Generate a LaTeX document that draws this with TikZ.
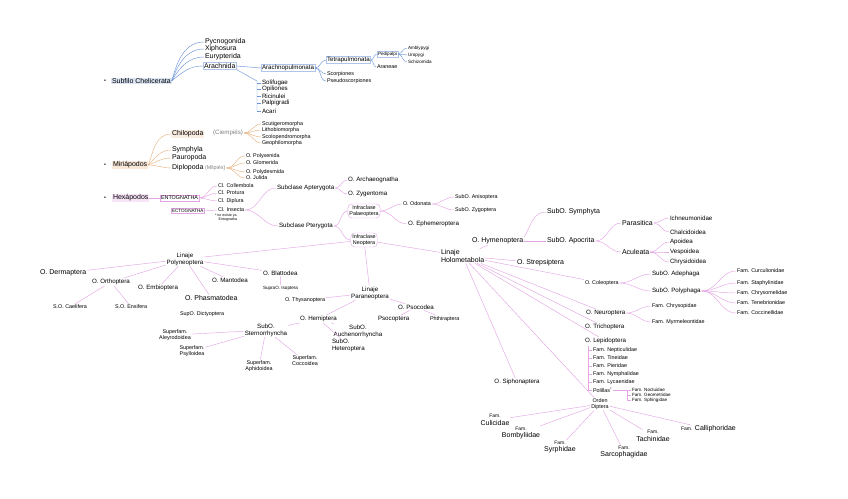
\documentclass[tikz,border=0pt]{standalone}
\usepackage{fontspec}
\setmainfont{Liberation Sans}
\definecolor{chelblue}{RGB}{110,150,215}
\definecolor{myrorange}{RGB}{230,180,130}
\definecolor{hexpink}{RGB}{228,165,228}

\begin{document}
\begin{tikzpicture}[x=1pt, y=-1pt,
    every node/.style={anchor=west, inner sep=0.8pt, align=left, font=\fontsize{5.4}{6}\selectfont},
    t3/.style={font=\fontsize{3.6}{4}\selectfont},
    t4/.style={font=\fontsize{4.6}{5.2}\selectfont},
    t6/.style={font=\fontsize{6.2}{6.8}\selectfont},
    t7/.style={font=\fontsize{7}{7.4}\selectfont},
    mid/.style={anchor=center, align=center},
    chl/.style={draw=chelblue, line width=0.45pt},
    myl/.style={draw=myrorange, line width=0.45pt},
    hxl/.style={draw=hexpink, line width=0.45pt},
    chbox/.style={draw=chelblue!55, line width=0.4pt},
    hxbox/.style={draw=hexpink, line width=0.4pt},
    ]
  \useasboundingbox (0,0) rectangle (848,498);

  \node (chdot) at (103,81) {\textbullet};
  \node[t7, fill=chelblue!25] (chel) at (111,81) {Subfilo Chelicerata};
  \node[t7] (pycno) at (204,42) {Pycnogonida};
  \node[t7] (xipho) at (204,49) {Xiphosura};
  \node[t7] (euryp) at (204,57) {Eurypterida};
  \node[t7, chbox] (arach) at (203,66) {Arachnida};
  \node[t6, chbox] (arpul) at (261,68) {Arachnopulmonata};
  \node[t6, chbox] (tetra) at (326,60) {Tetrapulmonata};
  \node[t4, chbox] (pedip) at (377,54) {Pedipalpi};
  \node[t4] (ambly) at (407,48) {Amblypygi};
  \node[t4] (uropy) at (407,55) {Uropygi};
  \node[t4] (schiz) at (407,62) {Schizomida};
  \node (aranea) at (376,67) {Araneae};
  \node (scorp) at (326,74) {Scorpiones};
  \node (pseudo) at (326,81) {Pseudoscorpiones};
  \coordinate (arbr) at (257,81);
  \node[t6] (solif) at (261,83) {Solifugae};
  \node[t6] (opil) at (261,89) {Opiliones};
  \node[t6] (ricin) at (261,96) {Ricinulei};
  \node[t6] (palpi) at (261,103) {Palpigradi};
  \node[t6] (acari) at (261,111) {Acari};

  \node (mydot) at (103,165) {\textbullet};
  \node[t7, fill=myrorange!30] (myria) at (112,165) {Miriápodos};
  \node[t7, fill=myrorange!25] (chilo) at (171,134) {Chilopoda};
  \node[t6, text=gray] (ciemp) at (212,133) {(Ciempiés)};
  \node[t7] (symph) at (171,150) {Symphyla};
  \node[t7] (pauro) at (171,158) {Pauropoda};
  \node[t7] (diplo) at (171,168) {Diplopoda};
  \node[text=gray] (milp) at (204,168) {(Milpiés)};
  \node (scuti) at (261,124) {Scutigeromorpha};
  \node (litho) at (261,130) {Lithobiomorpha};
  \node (scolo) at (261,137) {Scolopendromorpha};
  \node (geoph) at (261,143) {Geophilomorpha};
  \node (polyx) at (245,156) {O. Polyxenida};
  \node (glom) at (245,163) {O. Glomerida};
  \node (polyd) at (245,172) {O. Polydesmida};
  \node (julid) at (245,178) {O. Julida};

  \node (hxdot) at (103,198) {\textbullet};
  \node[t7, fill=hexpink!30] (hexa) at (112,198) {Hexápodos};
  \node[hxbox] (entog) at (160,198) {ENTOGNATHA};
  \node[t4, hxbox] (ectog) at (171,211) {ECTOGNATHA};
  \node (collem) at (217,186) {Cl. Collembola};
  \node (protu) at (217,193) {Cl. Protura};
  \node (diplu) at (217,201) {Cl. Diplura};
  \node (insec) at (217,210) {Cl. Insecta};
  \node[t3] (note) at (214,218) {* no existe ya\\\quad Entognatha};
  \node[t6] (apter) at (276,188) {Subclase Apterygota};
  \node[t6] (archae) at (347,180) {O. Archaeognatha};
  \node[t6] (zygen) at (347,194) {O. Zygentoma};
  \node[t6] (ptery) at (278,226) {Subclase Pterygota};
  \node[hxbox, mid, rounded corners=4pt, inner sep=1.5pt] (palae) at (364,211) {Infraclase\\Palaeoptera};
  \node[hxbox, mid, rounded corners=4pt, inner sep=1.5pt] (neopt) at (364,240) {Infraclase\\Neoptera};
  \node (odona) at (402,204) {O. Odonata};
  \node (aniso) at (454,197) {SubO. Anisoptera};
  \node (zygo) at (454,210) {SubO. Zygoptera};
  \node[t6] (ephem) at (407,224) {O. Ephemeroptera};

  \node[t7] (holo) at (440,256) {Linaje\\Holometabola};
  \node[t7] (hymen) at (471,241) {O. Hymenoptera};
  \node[t7] (symphy) at (546,212) {SubO. Symphyta};
  \node[t7] (apocr) at (546,241) {SubO. Apocrita};
  \node[t7] (parasi) at (621,223) {Parasitica};
  \node[t7] (aculea) at (621,252) {Aculeata};
  \node[t6] (ichneu) at (669,218) {Ichneumonidae};
  \node[t6] (chalc) at (669,232) {Chalcidoidea};
  \node[t6] (apoid) at (669,242) {Apoidea};
  \node[t6] (vespo) at (669,252) {Vespoidea};
  \node[t6] (chrysi) at (669,262) {Chrysidoidea};
  \node[t7] (strep) at (516,263) {O. Strepsiptera};
  \node (coleo) at (584,283) {O. Coleoptera};
  \node[t6] (adeph) at (651,274) {SubO. Adephaga};
  \node[t6] (polyp) at (651,291) {SubO. Polyphaga};
  \node (curcu) at (736,271) {Fam. Curculionidae};
  \node (staph) at (736,283) {Fam. Staphylinidae};
  \node (chrysom) at (736,293) {Fam. Chrysomelidae};
  \node (teneb) at (736,303) {Fam. Tenebrionidae};
  \node (cocci) at (736,313) {Fam. Coccinellidae};
  \node[t6] (neuro) at (585,313) {O. Neuroptera};
  \node (chryso) at (651,306) {Fam. Chrysopidae};
  \node (myrme) at (651,322) {Fam. Myrmeleontidae};
  \node[t6] (trich) at (584,327) {O. Trichoptera};
  \node[t6] (lepid) at (584,341) {O. Lepidoptera};
  \coordinate (lpbr) at (588,346);
  \node (nepti) at (592,350) {Fam. Nepticulidae};
  \node (tinei) at (592,358) {Fam. Tineidae};
  \node (pieri) at (592,366) {Fam. Pieridae};
  \node (nymph) at (592,374) {Fam. Nymphalidae};
  \node (lycae) at (592,382) {Fam. Lycaenidae};
  \node (polil) at (592,390) {Polillas\textsuperscript{*}};
  \coordinate (plbr) at (627,390);
  \node[t4] (noctu) at (631,390) {Fam. Noctuidae};
  \node[t4] (geome) at (631,395) {Fam. Geometridae};
  \node[t4] (sphin) at (631,400) {Fam. Sphingidae};
  \node[mid] (dipt) at (600,404) {Orden\\Diptera};
  \node[t7, mid] (culic) at (495,420) {{\fontsize{5}{5}\selectfont Fam.}\\Culicidae};
  \node[t7, mid] (bomby) at (521,433) {{\fontsize{5}{5}\selectfont Fam.}\\Bombyliidae};
  \node[t7, mid] (syrph) at (560,447) {{\fontsize{5}{5}\selectfont Fam.}\\Syrphidae};
  \node[t7, mid] (sarco) at (624,452) {{\fontsize{5}{5}\selectfont Fam.}\\Sarcophagidae};
  \node[t7, mid] (tachi) at (653,436) {{\fontsize{5}{5}\selectfont Fam.}\\Tachinidae};
  \node[t7] (calli) at (680,429) {{\fontsize{5}{5}\selectfont Fam.} Calliphoridae};
  \node[t6, mid] (sipho) at (517,382) {O. Siphonaptera};

  \node[t6, mid] (polyn) at (185,259) {Linaje\\Polyneoptera};
  \node[t7] (derma) at (39,273) {O. Dermaptera};
  \node[t6] (ortho) at (91,282) {O. Orthoptera};
  \node[t6] (embio) at (137,288) {O. Embioptera};
  \node[t6] (manto) at (211,280) {O. Mantodea};
  \node[t6] (blatt) at (262,273) {O. Blattodea};
  \node[t4] (isopt) at (262,288) {SupraO. Isoptera};
  \node[t7] (phasm) at (184,298) {O. Phasmatodea};
  \node (dicty) at (179,314) {SupO. Dictyoptera};
  \node (caeli) at (52,307) {S.O. Caelifera};
  \node (ensif) at (114,307) {S.O. Ensifera};

  \node[t6, mid] (paran) at (370,293) {Linaje\\Paraneoptera};
  \node (thysa) at (284,300) {O. Thysanoptera};
  \node[t6] (psoco) at (397,307) {O. Psocodea};
  \node[t6] (psocop) at (377,319) {Psocoptera};
  \node (phthi) at (429,319) {Phthiraptera};
  \node[t6] (hemip) at (299,319) {O. Hemiptera};
  \node[t6, mid] (stern) at (266,330) {SubO.\\Sternorrhyncha};
  \node[t6, mid] (auche) at (358,331) {SubO.\\Auchenorrhyncha};
  \node[t6] (heter) at (331,345) {SubO.\\Heteroptera};
  \node[mid] (aleyr) at (175,335) {Superfam.\\Aleyrodoidea};
  \node[mid] (psyll) at (192,351) {Superfam.\\Psylloidea};
  \node[mid] (aphid) at (259,366) {Superfam.\\Aphidoidea};
  \node[mid] (cocco) at (305,361) {Superfam.\\Coccoidea};

  \foreach \n/\a in {pycno/75,xipho/70,euryp/60,arach/40}
    \draw[chl] (chel.east) to[out=\a,in=180] (\n.west);
  \draw[chl] (arach.east) -- (arpul.west);
  \draw[chl] (arach.south east) -- (arbr) -- (arbr |- acari.west);
  \foreach \n in {solif,opil,ricin,palpi,acari}
    \draw[chl] (arbr |- \n.west) -- (\n.west);
  \foreach \n in {tetra,scorp,pseudo}
    \draw[chl] (arpul.east) to[out=0,in=180] (\n.west);
  \foreach \n in {pedip,aranea}
    \draw[chl] (tetra.east) to[out=0,in=180] (\n.west);
  \foreach \n in {ambly,uropy,schiz}
    \draw[chl] (pedip.east) to[out=0,in=180] (\n.west);

  \foreach \n/\a in {chilo/70,symph/45,pauro/20,diplo/0}
    \draw[myl] (myria.east) to[out=\a,in=180] (\n.west);
  \foreach \n in {scuti,litho,scolo,geoph}
    \draw[myl] (ciemp.east) to[out=0,in=180] (\n.west);
  \foreach \n in {polyx,glom,polyd,julid}
    \draw[myl] (milp.east) to[out=0,in=180] (\n.west);

  \draw[hxl] (hexa.east) -- (entog.west);
  \foreach \n in {collem,protu,diplu}
    \draw[hxl] (entog.east) to[out=0,in=180] (\n.west);
  \draw[hxl] (ectog.east) -- (insec.west);
  \foreach \n in {apter,ptery}
    \draw[hxl] (insec.east) to[out=0,in=180] (\n.west);
  \foreach \n in {archae,zygen}
    \draw[hxl] (apter.east) to[out=0,in=180] (\n.west);
  \foreach \n in {palae,neopt}
    \draw[hxl] (ptery.east) to[out=0,in=180] (\n.west);
  \foreach \n in {odona,ephem}
    \draw[hxl] (palae.east) to[out=0,in=180] (\n.west);
  \foreach \n in {aniso,zygo}
    \draw[hxl] (odona.east) to[out=0,in=180] (\n.west);
  \foreach \n in {polyn,paran,holo}
    \draw[hxl] (neopt) -- (\n);

  \foreach \n in {derma,ortho,embio,manto,blatt,phasm}
    \draw[hxl] (polyn) -- (\n);
  \foreach \n in {caeli,ensif}
    \draw[hxl] (ortho) -- (\n);
  \draw[hxl] (blatt) -- (isopt);
  \foreach \n in {thysa,psoco,hemip}
    \draw[hxl] (paran) -- (\n);
  \foreach \n in {psocop,phthi}
    \draw[hxl] (psoco) -- (\n);
  \foreach \n in {stern,auche,heter}
    \draw[hxl] (hemip) -- (\n);
  \foreach \n in {aleyr,psyll,aphid,cocco}
    \draw[hxl] (stern) -- (\n);

  \foreach \n in {hymen,strep,coleo,neuro,trich,lepid,dipt,sipho}
    \draw[hxl] (holo) -- (\n);
  \draw[hxl] (hymen.north east) to[out=60,in=180] (symphy.west);
  \draw[hxl] (hymen) -- (apocr);
  \foreach \n in {parasi,aculea}
    \draw[hxl] (apocr.east) to[out=0,in=180] (\n.west);
  \foreach \n in {ichneu,chalc}
    \draw[hxl] (parasi.east) to[out=0,in=180] (\n.west);
  \foreach \n in {apoid,vespo,chrysi}
    \draw[hxl] (aculea.east) to[out=0,in=180] (\n.west);
  \foreach \n in {adeph,polyp}
    \draw[hxl] (coleo.east) to[out=0,in=180] (\n.west);
  \foreach \n in {curcu,staph,chrysom,teneb,cocci}
    \draw[hxl] (polyp.east) to[out=0,in=180] (\n.west);
  \foreach \n in {chryso,myrme}
    \draw[hxl] (neuro.east) to[out=0,in=180] (\n.west);
  \draw[hxl] (lpbr) -- (lpbr |- polil.west);
  \foreach \n in {nepti,tinei,pieri,nymph,lycae,polil}
    \draw[hxl] (lpbr |- \n.west) -- (\n.west);
  \draw[hxl] (polil.east) -- (plbr) -- (plbr |- sphin.west);
  \foreach \n in {noctu,geome,sphin}
    \draw[hxl] (plbr |- \n.west) -- (\n.west);
  \foreach \n in {culic,bomby,syrph,sarco,tachi,calli}
    \draw[hxl] (dipt) -- (\n);
\end{tikzpicture}
\end{document}
